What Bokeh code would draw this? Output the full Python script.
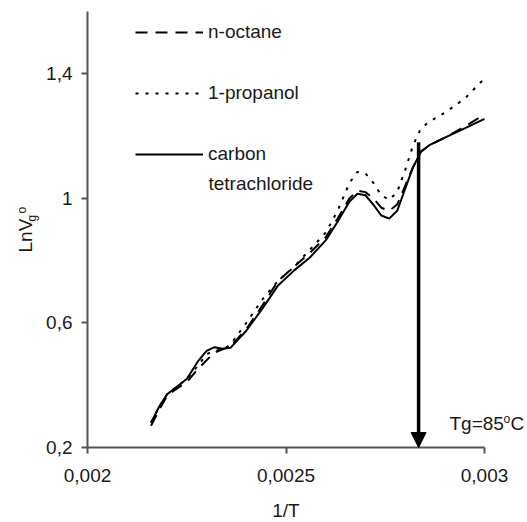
from bokeh.plotting import figure
from bokeh.models import FixedTicker, Label, Arrow, NormalHead, Legend, LegendItem
from bokeh.embed import file_html
from bokeh.resources import INLINE

# ---- data ----
inv_T = [0.00216, 0.00218, 0.0022, 0.00222, 0.00225, 0.00228, 0.0023, 0.00232,
         0.00234, 0.00236, 0.0024, 0.00244, 0.00248, 0.00252, 0.00256, 0.0026,
         0.00263, 0.00266, 0.00268, 0.0027, 0.00272, 0.00274, 0.00276, 0.00278,
         0.0028, 0.00282, 0.00284, 0.00286, 0.0029, 0.00295, 0.003]

n_octane = [0.27, 0.32, 0.365, 0.385, 0.41, 0.455, 0.48, 0.505,
            0.515, 0.525, 0.58, 0.655, 0.735, 0.78, 0.825, 0.875,
            0.935, 1.0, 1.025, 1.02, 1.0, 0.97, 0.96, 0.98,
            1.04, 1.10, 1.15, 1.17, 1.195, 1.23, 1.27]

propanol = [0.28, 0.33, 0.37, 0.39, 0.42, 0.465, 0.50, 0.51,
            0.515, 0.53, 0.60, 0.675, 0.735, 0.78, 0.835, 0.89,
            0.96, 1.05, 1.085, 1.08, 1.05, 1.01, 0.995, 1.02,
            1.09, 1.17, 1.225, 1.245, 1.275, 1.32, 1.385]

ccl4 = [0.28, 0.33, 0.37, 0.39, 0.42, 0.48, 0.51, 0.522,
        0.517, 0.52, 0.575, 0.645, 0.72, 0.768, 0.81, 0.865,
        0.925, 0.99, 1.015, 1.01, 0.98, 0.945, 0.935, 0.96,
        1.03, 1.10, 1.15, 1.17, 1.195, 1.225, 1.255]

series_names = ["n-octane", "1-propanol", "carbon"]
ccl4_second_line = "tetrachloride"

x_ticks = [0.002, 0.0025, 0.003]
x_tick_labels = ["0,002", "0,0025", "0,003"]
y_ticks = [0.2, 0.6, 1.0, 1.4]
y_tick_labels = ["0,2", "0,6", "1", "1,4"]
y_axis_span = (0.2, 1.6)

tg_inv_T = 0.002834      # position of the Tg arrow
tg_arrow_top = 1.18

FONT = "Liberation Sans"
TXT = "#1a1a1a"
AX = "#555555"

# ---- layout (pixels) ----
W, H = 527, 522
AXL, AXR = 87, 484          # pixel columns of 1/T = 0.002 and 0.003
TOP, BOT = 11, 447          # pixel rows of LnV = 1.6 and 0.2
PX = (x_ticks[-1] - x_ticks[0]) / (AXR - AXL)
PY = (y_axis_span[1] - y_axis_span[0]) / (BOT - TOP)
x0 = x_ticks[0] - AXL * PX
x1 = x_ticks[-1] + (W - AXR) * PX


def dx(px):
    return x0 + px * PX


def dy(py):
    return y_axis_span[0] + (BOT - py) * PY


p = figure(width=W, height=H, x_range=(x0, x1), y_range=(dy(H), dy(0)),
           output_backend="svg", toolbar_location=None,
           min_border_left=0, min_border_right=0, min_border_top=0,
           min_border_bottom=0)
p.outline_line_color = None
p.grid.visible = False

r_oct = p.line(inv_T, n_octane, line_color="black", line_width=2, line_dash="12 8")
r_pro = p.line(inv_T, propanol, line_color="black", line_width=2, line_dash="3 7")
r_ccl = p.line(inv_T, ccl4, line_color="black", line_width=2)

for ax in (p.xaxis[0], p.yaxis[0]):
    ax.axis_line_color = AX
    ax.axis_line_width = 2
    ax.major_tick_line_color = AX
    ax.major_tick_line_width = 2
    ax.major_tick_out = 6
    ax.major_tick_in = 0
    ax.minor_tick_line_color = None
    ax.major_label_text_font = FONT
    ax.major_label_text_font_size = "19px"
    ax.major_label_text_color = TXT

p.xaxis.ticker = FixedTicker(ticks=x_ticks)
p.xaxis.bounds = (x_ticks[0], x_ticks[-1])
p.xaxis.fixed_location = y_axis_span[0]
p.xaxis.major_label_overrides = dict(zip(x_ticks, x_tick_labels))
p.xaxis.major_label_standoff = 15
p.xaxis.axis_label = "1/T"
p.xaxis.axis_label_text_font = FONT
p.xaxis.axis_label_text_font_size = "19px"
p.xaxis.axis_label_text_font_style = "normal"
p.xaxis.axis_label_text_color = TXT
p.xaxis.axis_label_standoff = 15

p.yaxis.ticker = FixedTicker(ticks=y_ticks)
p.yaxis.bounds = y_axis_span
p.yaxis.fixed_location = x_ticks[0]
p.yaxis.major_label_overrides = dict(zip(y_ticks, y_tick_labels))
p.yaxis.major_label_standoff = 9

# y-axis label "LnV" with subscript g and superscript o, rotated
rot = dict(text_font=FONT, text_color=TXT, angle=1.5708, text_align="left",
           text_baseline="alphabetic")
p.add_layout(Label(x=dx(25), y=dy(252), text="LnV", text_font_size="19px", **rot))
p.add_layout(Label(x=dx(31.5), y=dy(221), text="g", text_font_size="12px", **rot))
p.add_layout(Label(x=dx(21), y=dy(213), text="o", text_font_size="12px", **rot))

# Tg arrow and label
p.add_layout(Arrow(x_start=tg_inv_T, y_start=tg_arrow_top, x_end=tg_inv_T, y_end=y_axis_span[0],
                   line_color="black", line_width=3.5,
                   end=NormalHead(size=15, fill_color="black", line_color="black", line_width=1)))
p.add_layout(Label(x=dx(449), y=dy(433), text="Tg=85",
                   text_font=FONT, text_font_size="19px", text_color=TXT))
p.add_layout(Label(x=dx(503), y=dy(425), text="o",
                   text_font=FONT, text_font_size="12px", text_color=TXT))
p.add_layout(Label(x=dx(510), y=dy(433), text="C",
                   text_font=FONT, text_font_size="19px", text_color=TXT))

legend = Legend(items=[LegendItem(label=series_names[0], renderers=[r_oct]),
                       LegendItem(label=series_names[1], renderers=[r_pro]),
                       LegendItem(label=series_names[2], renderers=[r_ccl])],
                location=(135, 357), glyph_width=68, glyph_height=20, label_standoff=5,
                spacing=39, padding=0, margin=0, border_line_color=None,
                background_fill_alpha=0, label_text_font=FONT,
                label_text_font_size="19px", label_text_color=TXT)
p.add_layout(legend)
p.add_layout(Label(x=dx(208), y=dy(183), text=ccl4_second_line, text_font=FONT,
                   text_font_size="19px", text_color=TXT, text_baseline="middle"))

open("out.html", "w").write(file_html(p, INLINE))
